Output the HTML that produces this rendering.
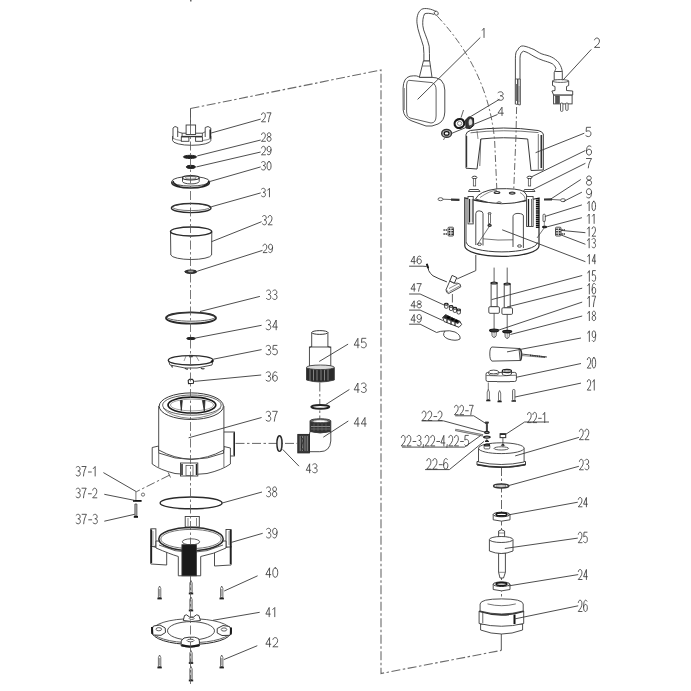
<!DOCTYPE html><html><head><meta charset="utf-8"><style>html,body{margin:0;padding:0;background:#fff;width:691px;height:691px;overflow:hidden}svg{display:block;font-family:"Liberation Sans",sans-serif}</style></head><body><svg width="691" height="691" viewBox="0 0 691 691"><polyline points="190.5,108.5 381,70 381,673.5 501.3,650.4" fill="none" stroke="#6a6a6a" stroke-width="1.1" stroke-dasharray="9 2.5 2.5 2.5"/>
<line x1="501.3" y1="650.4" x2="501.3" y2="634" stroke="#555" stroke-width="1.0" />
<polyline points="501.5,467 501.5,634" fill="none" stroke="#555" stroke-width="0.9" stroke-dasharray="9 2.5 2.5 2.5"/>
<path d="M172.6,136 L172.6,140.5 A19.1,4.8 0 0 0 210.8,140.5 L210.8,136" fill="#fff" stroke="#3a3a3a" stroke-width="0.9" />
<path d="M173,139 L173,128 L175,126.5 L177.7,127.5 L177.7,137" fill="#fff" stroke="#3a3a3a" stroke-width="0.9" />
<path d="M205.2,137 L205.2,127.5 L208,126.5 L210.8,128 L210.8,139" fill="#fff" stroke="#3a3a3a" stroke-width="0.9" />
<line x1="210.2" y1="129.5" x2="210.2" y2="138.5" stroke="#222" stroke-width="1.5" />
<path d="M177.7,131.7 Q180,132.8 182.1,133 L182.1,136 M202.4,133 Q204,132.8 205.2,131.7 M202.4,133 L202.4,136" fill="none" stroke="#3a3a3a" stroke-width="0.8" />
<rect x="186.1" y="125" width="9.5" height="9.5" rx="0" fill="#fff" stroke="#3a3a3a" stroke-width="0.9" />
<line x1="182.1" y1="133.2" x2="186.1" y2="133.2" stroke="#3a3a3a" stroke-width="0.9" />
<line x1="195.6" y1="133.2" x2="202.4" y2="133.2" stroke="#3a3a3a" stroke-width="0.9" />
<rect x="181.3" y="136.9" width="7.6" height="4.4" rx="0" fill="#fff" stroke="#3a3a3a" stroke-width="0.9" />
<rect x="195.6" y="136.9" width="6.8" height="4.4" rx="0" fill="#fff" stroke="#3a3a3a" stroke-width="0.9" />
<line x1="181.3" y1="136.5" x2="202.4" y2="136.5" stroke="#333" stroke-width="1.3" />
<path d="M173.5,138.5 Q176,140 181.3,140.5 M202.4,140.5 Q208,140 210.5,138.5" fill="none" stroke="#3a3a3a" stroke-width="0.6" />
<line x1="211.2" y1="133" x2="260.7" y2="119.1" stroke="#3a3a3a" stroke-width="0.9" />
<path d="M261.53 114.60C261.85 113.25 262.57 112.80 263.44 112.80C264.64 112.80 265.36 114.06 265.36 115.77C265.36 117.75 264.04 119.28 261.45 121.80L265.44 121.80 M267.06 112.80L271.05 112.80C269.54 115.95 268.74 118.38 268.50 121.80" fill="none" stroke="#3a3a3a" stroke-width="0.85" stroke-linecap="round" stroke-linejoin="round"/>
<ellipse cx="190" cy="156.9" rx="6.6" ry="1.6" fill="#222" stroke="#222" stroke-width="1.0" />
<line x1="197.3" y1="155.9" x2="260.7" y2="140" stroke="#3a3a3a" stroke-width="0.9" />
<path d="M261.53 134.50C261.85 133.23 262.57 132.80 263.44 132.80C264.64 132.80 265.36 133.99 265.36 135.61C265.36 137.48 264.04 138.92 261.45 141.30L265.44 141.30 M269.06 136.71C267.94 136.71 267.30 135.86 267.30 134.76C267.30 133.48 268.06 132.80 269.06 132.80C270.05 132.80 270.81 133.48 270.81 134.76C270.81 135.86 270.17 136.71 269.06 136.71C267.86 136.71 267.06 137.73 267.06 139.09C267.06 140.45 267.86 141.30 269.06 141.30C270.25 141.30 271.05 140.45 271.05 139.09C271.05 137.73 270.25 136.71 269.06 136.71Z" fill="none" stroke="#3a3a3a" stroke-width="0.85" stroke-linecap="round" stroke-linejoin="round"/>
<ellipse cx="190.9" cy="166.9" rx="4.6" ry="1.6" fill="#222" stroke="#222" stroke-width="1.0" />
<line x1="196.5" y1="166.9" x2="260.7" y2="152" stroke="#3a3a3a" stroke-width="0.9" />
<path d="M261.53 148.00C261.85 146.73 262.57 146.30 263.44 146.30C264.64 146.30 265.36 147.49 265.36 149.11C265.36 150.98 264.04 152.42 261.45 154.80L265.44 154.80 M271.05 149.53C270.85 150.98 270.05 151.74 269.06 151.74C267.86 151.74 267.06 150.55 267.06 149.02C267.06 147.32 267.86 146.30 269.06 146.30C270.25 146.30 271.05 147.58 271.05 149.70C271.05 152.59 270.25 154.80 268.98 154.80C268.34 154.80 267.70 154.55 267.26 154.12" fill="none" stroke="#3a3a3a" stroke-width="0.85" stroke-linecap="round" stroke-linejoin="round"/>
<ellipse cx="190.6" cy="182.8" rx="18.8" ry="5.2" fill="#fff" stroke="#2a2a2a" stroke-width="1.6" />
<ellipse cx="190.6" cy="181.3" rx="18.8" ry="4.8" fill="#fff" stroke="#3a3a3a" stroke-width="0.9" />
<path d="M182.5,178 L182.5,181.5 A8.35,2.4 0 0 0 199.2,181.5 L199.2,178" fill="#fff" stroke="#3a3a3a" stroke-width="0.9" />
<ellipse cx="190.85" cy="177.8" rx="8.35" ry="2.2" fill="#fff" stroke="#2a2a2a" stroke-width="1.1" />
<ellipse cx="190.85" cy="177.8" rx="5.5" ry="1.3" fill="none" stroke="#3a3a3a" stroke-width="0.6" />
<path d="M173,181 Q174,185 180,186.5 M208.8,181 Q208,185 202,186.5" fill="none" stroke="#222" stroke-width="1.4" />
<line x1="209.5" y1="181.6" x2="260.7" y2="166.9" stroke="#3a3a3a" stroke-width="0.9" />
<path d="M261.53 162.35C262.25 161.67 262.77 161.50 263.44 161.50C264.64 161.50 265.24 162.52 265.24 163.71C265.24 164.90 264.44 165.50 263.12 165.50C264.64 165.50 265.44 166.43 265.44 167.79C265.44 169.15 264.64 170.00 263.44 170.00C262.65 170.00 261.93 169.66 261.45 169.15 M269.06 161.50C267.38 161.50 267.06 164.05 267.06 165.75C267.06 167.45 267.38 170.00 269.06 170.00C270.73 170.00 271.05 167.45 271.05 165.75C271.05 164.05 270.73 161.50 269.06 161.50Z" fill="none" stroke="#3a3a3a" stroke-width="0.85" stroke-linecap="round" stroke-linejoin="round"/>
<ellipse cx="191.2" cy="208.0" rx="19.8" ry="4.6" fill="none" stroke="#2a2a2a" stroke-width="1.4" />
<ellipse cx="191.2" cy="207.2" rx="18.6" ry="3.4" fill="none" stroke="#3a3a3a" stroke-width="0.7" />
<line x1="211.2" y1="206.8" x2="260.7" y2="192.9" stroke="#3a3a3a" stroke-width="0.9" />
<path d="M261.53 189.15C262.25 188.47 262.77 188.30 263.44 188.30C264.64 188.30 265.24 189.32 265.24 190.51C265.24 191.70 264.44 192.30 263.12 192.30C264.64 192.30 265.44 193.23 265.44 194.59C265.44 195.95 264.64 196.80 263.44 196.80C262.65 196.80 261.93 196.46 261.45 195.95 M267.66 190.17L269.46 188.30L269.46 196.80" fill="none" stroke="#3a3a3a" stroke-width="0.85" stroke-linecap="round" stroke-linejoin="round"/>
<path d="M170.5,232 L170.8,255 A20.5,5 0 0 0 211.6,255 L211.8,232" fill="#fff" stroke="#3a3a3a" stroke-width="0.9" />
<ellipse cx="191.1" cy="231.5" rx="20.6" ry="4.4" fill="#fff" stroke="#2a2a2a" stroke-width="1.5" />
<line x1="211.5" y1="241.7" x2="261.6" y2="221.7" stroke="#3a3a3a" stroke-width="0.9" />
<path d="M262.53 216.43C263.25 215.69 263.77 215.50 264.44 215.50C265.64 215.50 266.24 216.62 266.24 217.92C266.24 219.22 265.44 219.87 264.12 219.87C265.64 219.87 266.44 220.89 266.44 222.38C266.44 223.87 265.64 224.80 264.44 224.80C263.65 224.80 262.93 224.43 262.45 223.87 M268.14 217.36C268.46 215.97 269.18 215.50 270.06 215.50C271.25 215.50 271.97 216.80 271.97 218.57C271.97 220.62 270.65 222.20 268.06 224.80L272.05 224.80" fill="none" stroke="#3a3a3a" stroke-width="0.85" stroke-linecap="round" stroke-linejoin="round"/>
<ellipse cx="190.8" cy="271.7" rx="6" ry="1.7" fill="#333" stroke="#222" stroke-width="1.0" />
<ellipse cx="190.8" cy="271.4" rx="2.5" ry="0.6" fill="#999" stroke="#999" stroke-width="0.5" />
<line x1="197.3" y1="271.2" x2="262.5" y2="250.4" stroke="#3a3a3a" stroke-width="0.9" />
<path d="M263.03 245.88C263.35 244.62 264.07 244.20 264.94 244.20C266.14 244.20 266.86 245.38 266.86 246.97C266.86 248.82 265.54 250.25 262.95 252.60L266.94 252.60 M272.55 247.39C272.35 248.82 271.55 249.58 270.56 249.58C269.36 249.58 268.56 248.40 268.56 246.89C268.56 245.21 269.36 244.20 270.56 244.20C271.75 244.20 272.55 245.46 272.55 247.56C272.55 250.42 271.75 252.60 270.48 252.60C269.84 252.60 269.20 252.35 268.76 251.93" fill="none" stroke="#3a3a3a" stroke-width="0.85" stroke-linecap="round" stroke-linejoin="round"/>
<ellipse cx="191" cy="318.0" rx="25" ry="5.6" fill="none" stroke="#2a2a2a" stroke-width="1.9" />
<ellipse cx="191" cy="316.8" rx="24.4" ry="4.4" fill="none" stroke="#3a3a3a" stroke-width="0.8" />
<line x1="200" y1="311.5" x2="259.9" y2="296.4" stroke="#3a3a3a" stroke-width="0.9" />
<path d="M266.54 290.95C267.33 290.19 267.90 290.00 268.65 290.00C269.97 290.00 270.63 291.14 270.63 292.47C270.63 293.80 269.75 294.46 268.30 294.46C269.97 294.46 270.85 295.51 270.85 297.03C270.85 298.55 269.97 299.50 268.65 299.50C267.77 299.50 266.98 299.12 266.45 298.55 M272.74 290.95C273.53 290.19 274.10 290.00 274.85 290.00C276.17 290.00 276.83 291.14 276.83 292.47C276.83 293.80 275.95 294.46 274.50 294.46C276.17 294.46 277.05 295.51 277.05 297.03C277.05 298.55 276.17 299.50 274.85 299.50C273.97 299.50 273.18 299.12 272.65 298.55" fill="none" stroke="#3a3a3a" stroke-width="0.85" stroke-linecap="round" stroke-linejoin="round"/>
<ellipse cx="191" cy="338.5" rx="4.3" ry="1.1" fill="#222" stroke="#222" stroke-width="1.0" />
<line x1="195.1" y1="338.1" x2="261.6" y2="325.3" stroke="#3a3a3a" stroke-width="0.9" />
<path d="M266.14 320.98C266.99 320.20 267.60 320.00 268.40 320.00C269.80 320.00 270.51 321.18 270.51 322.55C270.51 323.92 269.57 324.61 268.02 324.61C269.80 324.61 270.74 325.68 270.74 327.25C270.74 328.82 269.80 329.80 268.40 329.80C267.46 329.80 266.61 329.41 266.05 328.82 M276.18 329.80L276.18 320.00L272.66 327.06L277.35 327.06" fill="none" stroke="#3a3a3a" stroke-width="0.85" stroke-linecap="round" stroke-linejoin="round"/>
<path d="M168.3,360.3 L170,365 L185,368 L197,368 L212,365 L213.1,360.3" fill="#fff" stroke="#3a3a3a" stroke-width="0.9" />
<ellipse cx="190.7" cy="360.3" rx="22.4" ry="4.7" fill="#fff" stroke="#2a2a2a" stroke-width="1.3" />
<path d="M171.5,365.5 L172.5,367.5 M185,368 Q186,369.5 188,369 M201,367.8 Q202.5,369.5 204.5,368.5" fill="none" stroke="#333" stroke-width="1.2" />
<path d="M211,362 L213,360.5" fill="none" stroke="#111" stroke-width="2" />
<path d="M186,356 L184,361 M196,356 L199,361" fill="none" stroke="#3a3a3a" stroke-width="0.5" />
<rect x="189.6" y="355.2" width="2.9" height="1.8" rx="0" fill="#444" stroke="#3a3a3a" stroke-width="0.6" />
<line x1="213.3" y1="359.2" x2="261.6" y2="349.6" stroke="#3a3a3a" stroke-width="0.9" />
<path d="M266.14 346.34C266.99 345.59 267.60 345.40 268.40 345.40C269.80 345.40 270.51 346.53 270.51 347.84C270.51 349.16 269.57 349.82 268.02 349.82C269.80 349.82 270.74 350.85 270.74 352.36C270.74 353.86 269.80 354.80 268.40 354.80C267.46 354.80 266.61 354.42 266.05 353.86 M276.97 345.40L273.22 345.40L272.89 349.63C273.60 349.16 274.30 348.97 275.00 348.97C276.41 348.97 277.35 350.10 277.35 351.89C277.35 353.67 276.41 354.80 275.00 354.80C274.07 354.80 273.22 354.42 272.66 353.86" fill="none" stroke="#3a3a3a" stroke-width="0.85" stroke-linecap="round" stroke-linejoin="round"/>
<path d="M188.2,380.5 L189.5,379.4 L192.5,379.4 L193.6,380.8 L193.4,383.3 L188.5,383.6 Z" fill="#fff" stroke="#2a2a2a" stroke-width="1.1" />
<line x1="194.3" y1="381.4" x2="261.2" y2="375" stroke="#3a3a3a" stroke-width="0.9" />
<path d="M266.14 372.74C266.99 371.99 267.60 371.80 268.40 371.80C269.80 371.80 270.51 372.93 270.51 374.24C270.51 375.56 269.57 376.22 268.02 376.22C269.80 376.22 270.74 377.25 270.74 378.76C270.74 380.26 269.80 381.20 268.40 381.20C267.46 381.20 266.61 380.82 266.05 380.26 M276.88 372.55C276.41 371.99 275.71 371.80 275.10 371.80C273.36 371.80 272.66 374.62 272.66 377.44C272.66 379.88 273.60 381.20 275.00 381.20C276.41 381.20 277.35 379.88 277.35 378.10C277.35 376.31 276.41 375.28 275.00 375.28C273.83 375.28 272.89 376.31 272.66 377.63" fill="none" stroke="#3a3a3a" stroke-width="0.85" stroke-linecap="round" stroke-linejoin="round"/>
<rect x="223.5" y="432" width="11" height="24" rx="0" fill="#fff" stroke="#3a3a3a" stroke-width="0.9" />
<line x1="234.2" y1="432.5" x2="234.2" y2="455.5" stroke="#222" stroke-width="1.6" />
<path d="M152.2,447.5 L152.2,464 Q160,470 175,473.5 Q191,476 207,473.5 Q222,470 230.4,464 L230.4,448 L223.9,446.5 L223.9,453 Q191,466 158.7,453 L158.7,446 Z" fill="#fff" stroke="#3a3a3a" stroke-width="0.9" />
<line x1="158.7" y1="453" x2="158.7" y2="467" stroke="#3a3a3a" stroke-width="0.7" />
<line x1="223.9" y1="453" x2="223.9" y2="467" stroke="#3a3a3a" stroke-width="0.7" />
<path d="M158.7,406 L158.7,450 Q191,468 223.9,450 L223.9,406" fill="#fff" stroke="#3a3a3a" stroke-width="0.9" />
<rect x="180.5" y="463" width="17.3" height="13" rx="0" fill="#fff" stroke="#3a3a3a" stroke-width="0.9" />
<line x1="182" y1="464" x2="182" y2="475" stroke="#222" stroke-width="1.5" />
<line x1="196.5" y1="464" x2="196.5" y2="475" stroke="#222" stroke-width="1.5" />
<rect x="186" y="465.5" width="7" height="10" rx="0" fill="#fff" stroke="#3a3a3a" stroke-width="0.7" />
<ellipse cx="191.3" cy="406.2" rx="32.1" ry="13.3" fill="#fff" stroke="#3a3a3a" stroke-width="1.0" />
<ellipse cx="191.9" cy="405.1" rx="29.3" ry="10.1" fill="none" stroke="#3a3a3a" stroke-width="0.8" />
<ellipse cx="191.9" cy="405.1" rx="23.9" ry="7.9" fill="#fff" stroke="#1a1a1a" stroke-width="1.7" />
<ellipse cx="192" cy="405.0" rx="21.5" ry="5.9" fill="none" stroke="#666" stroke-width="0.6" />
<path d="M180.3,400.5 L181.3,410.5 L182.3,400.5 Z M202.5,400.5 L204.3,411 L205,400.5 Z" fill="#333" stroke="#222" stroke-width="0.8" />
<path d="M163,408 Q170,417 191,418.5 Q213,417 221,408" fill="none" stroke="#3a3a3a" stroke-width="0.6" />
<line x1="188.6" y1="437.8" x2="261.6" y2="417.5" stroke="#3a3a3a" stroke-width="0.9" />
<path d="M266.14 412.29C266.99 411.50 267.60 411.30 268.40 411.30C269.80 411.30 270.51 412.49 270.51 413.87C270.51 415.26 269.57 415.95 268.02 415.95C269.80 415.95 270.74 417.04 270.74 418.63C270.74 420.21 269.80 421.20 268.40 421.20C267.46 421.20 266.61 420.80 266.05 420.21 M272.66 411.30L277.35 411.30C275.57 414.76 274.63 417.44 274.35 421.20" fill="none" stroke="#3a3a3a" stroke-width="0.85" stroke-linecap="round" stroke-linejoin="round"/>
<polyline points="169.4,475.2 136.4,491.7" fill="none" stroke="#555" stroke-width="0.9" stroke-dasharray="9 2.5 2.5 2.5"/>
<line x1="168.2" y1="472.5" x2="170.5" y2="477.5" stroke="#3a3a3a" stroke-width="0.8" />
<ellipse cx="143" cy="494.6" rx="1.6" ry="1.6" fill="none" stroke="#3a3a3a" stroke-width="0.7" />
<line x1="103.4" y1="472.6" x2="136.4" y2="491.7" stroke="#3a3a3a" stroke-width="0.9" />
<line x1="135.9" y1="491.7" x2="135.9" y2="500" stroke="#3a3a3a" stroke-width="0.7" />
<line x1="133" y1="500.9" x2="141.6" y2="500.9" stroke="#111" stroke-width="1.8" />
<line x1="104.3" y1="494.3" x2="134.7" y2="500.4" stroke="#3a3a3a" stroke-width="0.9" />
<path d="M134.9,504 L136.9,504 L136.9,516 L134.9,516 Z" fill="#bbb" stroke="#444" stroke-width="0.8" />
<line x1="133.8" y1="516.9" x2="138" y2="516.9" stroke="#111" stroke-width="1.8" />
<line x1="104.3" y1="521.2" x2="134.7" y2="514.3" stroke="#3a3a3a" stroke-width="0.9" />
<path d="M76.13 467.45C76.89 466.69 77.44 466.50 78.15 466.50C79.42 466.50 80.05 467.64 80.05 468.97C80.05 470.30 79.21 470.96 77.82 470.96C79.42 470.96 80.26 472.01 80.26 473.53C80.26 475.05 79.42 476.00 78.15 476.00C77.31 476.00 76.55 475.62 76.05 475.05 M81.98 466.50L86.18 466.50C84.58 469.82 83.74 472.39 83.49 476.00 M88.38 472.01L91.34 472.01 M93.27 468.59L95.17 466.50L95.17 476.00" fill="none" stroke="#3a3a3a" stroke-width="0.85" stroke-linecap="round" stroke-linejoin="round"/>
<path d="M76.13 489.16C76.89 488.39 77.44 488.20 78.15 488.20C79.42 488.20 80.05 489.35 80.05 490.70C80.05 492.04 79.21 492.71 77.82 492.71C79.42 492.71 80.26 493.77 80.26 495.30C80.26 496.84 79.42 497.80 78.15 497.80C77.31 497.80 76.55 497.42 76.05 496.84 M81.98 488.20L86.18 488.20C84.58 491.56 83.74 494.15 83.49 497.80 M88.38 493.77L91.34 493.77 M92.73 490.12C93.06 488.68 93.82 488.20 94.75 488.20C96.01 488.20 96.77 489.54 96.77 491.37C96.77 493.48 95.38 495.11 92.64 497.80L96.85 497.80" fill="none" stroke="#3a3a3a" stroke-width="0.85" stroke-linecap="round" stroke-linejoin="round"/>
<path d="M76.14 515.25C76.91 514.49 77.47 514.30 78.20 514.30C79.50 514.30 80.14 515.44 80.14 516.77C80.14 518.10 79.28 518.76 77.86 518.76C79.50 518.76 80.36 519.81 80.36 521.33C80.36 522.85 79.50 523.80 78.20 523.80C77.34 523.80 76.57 523.42 76.05 522.85 M82.12 514.30L86.43 514.30C84.79 517.62 83.93 520.19 83.67 523.80 M88.67 519.81L91.71 519.81 M93.13 515.25C93.90 514.49 94.46 514.30 95.20 514.30C96.49 514.30 97.13 515.44 97.13 516.77C97.13 518.10 96.27 518.76 94.85 518.76C96.49 518.76 97.35 519.81 97.35 521.33C97.35 522.85 96.49 523.80 95.20 523.80C94.33 523.80 93.56 523.42 93.04 522.85" fill="none" stroke="#3a3a3a" stroke-width="0.85" stroke-linecap="round" stroke-linejoin="round"/>
<ellipse cx="191.1" cy="502.9" rx="31" ry="5.9" fill="none" stroke="#2a2a2a" stroke-width="1.4" />
<line x1="222.2" y1="503" x2="262" y2="492" stroke="#3a3a3a" stroke-width="0.9" />
<path d="M266.54 487.89C267.31 487.10 267.86 486.90 268.59 486.90C269.87 486.90 270.51 488.09 270.51 489.47C270.51 490.86 269.66 491.55 268.25 491.55C269.87 491.55 270.73 492.64 270.73 494.23C270.73 495.81 269.87 496.80 268.59 496.80C267.73 496.80 266.96 496.40 266.45 495.81 M274.61 491.45C273.41 491.45 272.73 490.46 272.73 489.18C272.73 487.69 273.54 486.90 274.61 486.90C275.68 486.90 276.49 487.69 276.49 489.18C276.49 490.46 275.81 491.45 274.61 491.45C273.33 491.45 272.47 492.64 272.47 494.23C272.47 495.81 273.33 496.80 274.61 496.80C275.89 496.80 276.75 495.81 276.75 494.23C276.75 492.64 275.89 491.45 274.61 491.45Z" fill="none" stroke="#3a3a3a" stroke-width="0.85" stroke-linecap="round" stroke-linejoin="round"/>
<rect x="185.2" y="516.5" width="14.1" height="10.5" rx="0" fill="#fff" stroke="#3a3a3a" stroke-width="0.9" />
<line x1="188" y1="518" x2="188" y2="526" stroke="#3a3a3a" stroke-width="0.6" />
<line x1="196.5" y1="518" x2="196.5" y2="526" stroke="#3a3a3a" stroke-width="0.6" />
<path d="M150.8,546 L150.8,564 L166.7,565 L166.7,550 Z" fill="#fff" stroke="#3a3a3a" stroke-width="0.9" />
<path d="M231.1,546 L231.1,565 L214.5,566 L214.5,550 Z" fill="#fff" stroke="#3a3a3a" stroke-width="0.9" />
<rect x="150.8" y="528.8" width="5.1" height="17.5" rx="0" fill="#fff" stroke="#3a3a3a" stroke-width="0.9" />
<rect x="226" y="529.5" width="5.1" height="17.5" rx="0" fill="#fff" stroke="#3a3a3a" stroke-width="0.9" />
<line x1="151.3" y1="529.5" x2="151.3" y2="563" stroke="#222" stroke-width="1.7" />
<line x1="230.6" y1="530" x2="230.6" y2="564" stroke="#222" stroke-width="1.7" />
<line x1="153" y1="531" x2="153" y2="545" stroke="#3a3a3a" stroke-width="0.5" />
<line x1="229" y1="531" x2="229" y2="545" stroke="#3a3a3a" stroke-width="0.5" />
<path d="M156,541 L156,548 Q170,554 178.3,556.5 L178.3,575.8 L200.7,575.8 L200.7,556.5 Q214,554 226,548 L226,541 Z" fill="#fff" stroke="#3a3a3a" stroke-width="0.9" />
<ellipse cx="191" cy="539" rx="32.2" ry="11.6" fill="#fff" stroke="#2a2a2a" stroke-width="1.5" />
<ellipse cx="191" cy="539" rx="30.2" ry="9.6" fill="none" stroke="#3a3a3a" stroke-width="0.7" />
<path d="M159,545 Q191,560 223,545" fill="none" stroke="#3a3a3a" stroke-width="0.8" />
<ellipse cx="191" cy="541.8" rx="8.7" ry="3" fill="#fff" stroke="#3a3a3a" stroke-width="0.8" />
<rect x="181.9" y="544.7" width="14.5" height="31.1" rx="0" fill="#1a1a1a" stroke="#3a3a3a" stroke-width="0.8" />
<line x1="231.3" y1="542.4" x2="262.7" y2="533.3" stroke="#3a3a3a" stroke-width="0.9" />
<path d="M266.54 529.27C267.33 528.49 267.90 528.30 268.65 528.30C269.97 528.30 270.63 529.46 270.63 530.82C270.63 532.18 269.75 532.86 268.30 532.86C269.97 532.86 270.85 533.93 270.85 535.48C270.85 537.03 269.97 538.00 268.65 538.00C267.77 538.00 266.98 537.61 266.45 537.03 M277.05 531.99C276.83 533.63 275.95 534.51 274.85 534.51C273.53 534.51 272.65 533.15 272.65 531.40C272.65 529.46 273.53 528.30 274.85 528.30C276.17 528.30 277.05 529.75 277.05 532.18C277.05 535.48 276.17 538.00 274.76 538.00C274.06 538.00 273.35 537.71 272.87 537.22" fill="none" stroke="#3a3a3a" stroke-width="0.85" stroke-linecap="round" stroke-linejoin="round"/>
<path d="M159.6,586 L160.79999999999998,588.5 L160.79999999999998,597.5 L158.4,597.5 L158.4,588.5 Z" fill="#fff" stroke="#3a3a3a" stroke-width="0.7" />
<line x1="159.6" y1="589" x2="159.6" y2="596.5" stroke="#3a3a3a" stroke-width="0.5" />
<line x1="157.4" y1="598.5" x2="161.79999999999998" y2="598.5" stroke="#222" stroke-width="1.8" />
<path d="M221.7,586 L222.89999999999998,588.5 L222.89999999999998,597.5 L220.5,597.5 L220.5,588.5 Z" fill="#fff" stroke="#3a3a3a" stroke-width="0.7" />
<line x1="221.7" y1="589" x2="221.7" y2="596.5" stroke="#3a3a3a" stroke-width="0.5" />
<line x1="219.5" y1="598.5" x2="223.89999999999998" y2="598.5" stroke="#222" stroke-width="1.8" />
<path d="M191,580.5 L192.2,583.0 L192.2,592.5 L189.8,592.5 L189.8,583.0 Z" fill="#fff" stroke="#3a3a3a" stroke-width="0.7" />
<line x1="191" y1="583.5" x2="191" y2="591.5" stroke="#3a3a3a" stroke-width="0.5" />
<line x1="188.8" y1="593.5" x2="193.2" y2="593.5" stroke="#222" stroke-width="1.8" />
<path d="M191,597 L192.2,599.5 L192.2,609.5 L189.8,609.5 L189.8,599.5 Z" fill="#fff" stroke="#3a3a3a" stroke-width="0.7" />
<line x1="191" y1="600" x2="191" y2="608.5" stroke="#3a3a3a" stroke-width="0.5" />
<line x1="188.8" y1="610.5" x2="193.2" y2="610.5" stroke="#222" stroke-width="1.8" />
<line x1="224.2" y1="591" x2="257.6" y2="575.8" stroke="#3a3a3a" stroke-width="0.9" />
<path d="M269.56 577.30L269.56 567.80L265.85 574.64L270.79 574.64 M275.28 567.80C273.20 567.80 272.81 570.65 272.81 572.55C272.81 574.45 273.20 577.30 275.28 577.30C277.35 577.30 277.75 574.45 277.75 572.55C277.75 570.65 277.35 567.80 275.28 567.80Z" fill="none" stroke="#3a3a3a" stroke-width="0.85" stroke-linecap="round" stroke-linejoin="round"/>
<ellipse cx="191.6" cy="631.8" rx="39.7" ry="12.6" fill="#fff" stroke="#2a2a2a" stroke-width="1.0" />
<ellipse cx="191.6" cy="630.7" rx="39.4" ry="12.0" fill="#fff" stroke="#3a3a3a" stroke-width="0.8" />
<ellipse cx="191" cy="630.8" rx="23.5" ry="9.2" fill="none" stroke="#3a3a3a" stroke-width="0.9" />
<path d="M183.3,620.5 L184.5,615.5 L186.5,614.8 L189.5,617 L193.5,617 L196.5,614.8 L198.8,615.5 L200.5,620.5 Q192,622.5 183.3,620.5 Z" fill="#fff" stroke="#3a3a3a" stroke-width="1.0" />
<ellipse cx="191.7" cy="618.5" rx="2.5" ry="1.0" fill="none" stroke="#3a3a3a" stroke-width="0.7" />
<path d="M181.2,641 L184,638 L189,637.2 L194.5,637.2 L198.5,638.5 L199.4,641 L199.4,646 Q190,648.5 181.2,646 Z" fill="#fff" stroke="#3a3a3a" stroke-width="1.0" />
<path d="M181.5,645 Q190,648 199.2,645" fill="none" stroke="#1a1a1a" stroke-width="2.2" />
<ellipse cx="190.5" cy="640.5" rx="3.5" ry="1.3" fill="none" stroke="#3a3a3a" stroke-width="0.8" />
<path d="M151.5,630 L153.5,626 L160,625 L165.2,628 L165.5,632.5 L161,635.3 L153,635 Z" fill="#fff" stroke="#3a3a3a" stroke-width="1.0" />
<ellipse cx="158.8" cy="629.2" rx="2.8" ry="1.6" fill="none" stroke="#3a3a3a" stroke-width="0.8" />
<line x1="152" y1="627" x2="152.3" y2="634" stroke="#1a1a1a" stroke-width="2.0" />
<path d="M231.3,630.5 L229.5,626.5 L223,625.5 L217.2,628.5 L217.2,633 L222,635.5 L230,635.3 Z" fill="#fff" stroke="#3a3a3a" stroke-width="1.0" />
<ellipse cx="224" cy="629.5" rx="2.8" ry="1.6" fill="none" stroke="#3a3a3a" stroke-width="0.8" />
<line x1="231" y1="627.5" x2="230.8" y2="634.5" stroke="#1a1a1a" stroke-width="2.0" />
<line x1="213" y1="620.3" x2="259.7" y2="612.3" stroke="#3a3a3a" stroke-width="0.9" />
<path d="M269.18 616.70L269.18 607.50L265.85 614.12L270.29 614.12 M272.77 609.52L274.77 607.50L274.77 616.70" fill="none" stroke="#3a3a3a" stroke-width="0.85" stroke-linecap="round" stroke-linejoin="round"/>
<path d="M159.6,655 L160.79999999999998,657.5 L160.79999999999998,666.5 L158.4,666.5 L158.4,657.5 Z" fill="#fff" stroke="#3a3a3a" stroke-width="0.7" />
<line x1="159.6" y1="658" x2="159.6" y2="665.5" stroke="#3a3a3a" stroke-width="0.5" />
<line x1="157.4" y1="667.5" x2="161.79999999999998" y2="667.5" stroke="#222" stroke-width="1.8" />
<path d="M221.7,655 L222.89999999999998,657.5 L222.89999999999998,666.5 L220.5,666.5 L220.5,657.5 Z" fill="#fff" stroke="#3a3a3a" stroke-width="0.7" />
<line x1="221.7" y1="658" x2="221.7" y2="665.5" stroke="#3a3a3a" stroke-width="0.5" />
<line x1="219.5" y1="667.5" x2="223.89999999999998" y2="667.5" stroke="#222" stroke-width="1.8" />
<path d="M191,650.5 L192.2,653.0 L192.2,662 L189.8,662 L189.8,653.0 Z" fill="#fff" stroke="#3a3a3a" stroke-width="0.7" />
<line x1="191" y1="653.5" x2="191" y2="661" stroke="#3a3a3a" stroke-width="0.5" />
<line x1="188.8" y1="663" x2="193.2" y2="663" stroke="#222" stroke-width="1.8" />
<path d="M191,666.5 L192.2,669.0 L192.2,679.5 L189.8,679.5 L189.8,669.0 Z" fill="#fff" stroke="#3a3a3a" stroke-width="0.7" />
<line x1="191" y1="669.5" x2="191" y2="678.5" stroke="#3a3a3a" stroke-width="0.5" />
<line x1="188.8" y1="680.5" x2="193.2" y2="680.5" stroke="#222" stroke-width="1.8" />
<line x1="223.8" y1="659.6" x2="257.3" y2="645.7" stroke="#3a3a3a" stroke-width="0.9" />
<path d="M269.56 646.80L269.56 637.60L265.85 644.22L270.79 644.22 M272.91 639.44C273.30 638.06 274.19 637.60 275.28 637.60C276.76 637.60 277.65 638.89 277.65 640.64C277.65 642.66 276.02 644.22 272.81 646.80L277.75 646.80" fill="none" stroke="#3a3a3a" stroke-width="0.85" stroke-linecap="round" stroke-linejoin="round"/>
<path d="M311.7,332.5 L311.7,348 L327.9,348 L327.9,332.5" fill="#fff" stroke="#3a3a3a" stroke-width="0.9" />
<ellipse cx="319.8" cy="332.5" rx="8.1" ry="1.9" fill="#fff" stroke="#3a3a3a" stroke-width="1.0" />
<rect x="309.4" y="347" width="21.4" height="19" rx="0" fill="#fff" stroke="#3a3a3a" stroke-width="0.9" />
<line x1="309.4" y1="347.5" x2="311.7" y2="346.5" stroke="#3a3a3a" stroke-width="0.9" />
<line x1="330.8" y1="347.5" x2="327.9" y2="346.5" stroke="#3a3a3a" stroke-width="0.9" />
<path d="M306.5,367.5 L306.5,380 Q320,384 334.3,380 L334.3,367.5 Q320,364 306.5,367.5 Z" fill="#2a2a2a" stroke="#3a3a3a" stroke-width="0.9" />
<line x1="310" y1="369" x2="310" y2="380.5" stroke="#bbb" stroke-width="0.6" />
<line x1="313.5" y1="369" x2="313.5" y2="380.5" stroke="#bbb" stroke-width="0.6" />
<line x1="317" y1="369" x2="317" y2="380.5" stroke="#bbb" stroke-width="0.6" />
<line x1="321" y1="369" x2="321" y2="380.5" stroke="#bbb" stroke-width="0.6" />
<line x1="324.5" y1="369" x2="324.5" y2="380.5" stroke="#bbb" stroke-width="0.6" />
<line x1="328" y1="369" x2="328" y2="380.5" stroke="#bbb" stroke-width="0.6" />
<ellipse cx="320.4" cy="367.3" rx="13.8" ry="2.3" fill="#ddd" stroke="#3a3a3a" stroke-width="0.8" />
<line x1="319.2" y1="361.5" x2="348.1" y2="344.1" stroke="#3a3a3a" stroke-width="0.9" />
<path d="M357.92 347.80L357.92 338.30L354.15 345.14L359.17 345.14 M365.85 338.30L361.83 338.30L361.48 342.57C362.23 342.10 362.98 341.91 363.74 341.91C365.25 341.91 366.25 343.05 366.25 344.86C366.25 346.66 365.25 347.80 363.74 347.80C362.73 347.80 361.83 347.42 361.23 346.85" fill="none" stroke="#3a3a3a" stroke-width="0.85" stroke-linecap="round" stroke-linejoin="round"/>
<polyline points="319.8,382.5 319.8,420" fill="none" stroke="#555" stroke-width="0.9" stroke-dasharray="9 2.5 2.5 2.5"/>
<ellipse cx="320.3" cy="406.8" rx="9.0" ry="1.9" fill="#fff" stroke="#222" stroke-width="2.0" />
<line x1="325.5" y1="404.7" x2="349.4" y2="389.5" stroke="#3a3a3a" stroke-width="0.9" />
<path d="M357.92 392.50L357.92 383.00L354.15 389.84L359.17 389.84 M361.33 383.95C362.23 383.19 362.88 383.00 363.74 383.00C365.25 383.00 366.00 384.14 366.00 385.47C366.00 386.80 364.99 387.46 363.34 387.46C365.25 387.46 366.25 388.51 366.25 390.03C366.25 391.55 365.25 392.50 363.74 392.50C362.73 392.50 361.83 392.12 361.23 391.55" fill="none" stroke="#3a3a3a" stroke-width="0.85" stroke-linecap="round" stroke-linejoin="round"/>
<path d="M330.8,431.5 L330.8,441 Q330,451.7 319.8,451.7 L309.4,451.7 L309.4,434.4 L310,431.5 Z" fill="#fff" stroke="#3a3a3a" stroke-width="0.9" />
<path d="M310,421 L310,431.5 Q320,434.5 330.8,431.5 L330.8,421 Z" fill="#333" stroke="#3a3a3a" stroke-width="0.9" />
<ellipse cx="320.4" cy="420.9" rx="10.4" ry="2.2" fill="#777" stroke="#3a3a3a" stroke-width="0.9" />
<ellipse cx="320.4" cy="421.2" rx="8.4" ry="1.4" fill="#fff" stroke="#3a3a3a" stroke-width="0.7" />
<line x1="311" y1="426.5" x2="330" y2="426.5" stroke="#aaa" stroke-width="0.7" />
<line x1="311" y1="429" x2="330" y2="429" stroke="#888" stroke-width="0.6" />
<line x1="314" y1="423.5" x2="314" y2="431" stroke="#777" stroke-width="0.5" />
<line x1="318" y1="423.5" x2="318" y2="431" stroke="#777" stroke-width="0.5" />
<line x1="322" y1="423.5" x2="322" y2="431" stroke="#777" stroke-width="0.5" />
<line x1="326" y1="423.5" x2="326" y2="431" stroke="#777" stroke-width="0.5" />
<rect x="297.8" y="434.4" width="11.6" height="18.5" rx="0" fill="#3a3a3a" stroke="#222" stroke-width="0.9" />
<line x1="300.2" y1="436" x2="300.2" y2="451" stroke="#aaa" stroke-width="0.7" />
<line x1="302.6" y1="436" x2="302.6" y2="451" stroke="#aaa" stroke-width="0.7" />
<line x1="305" y1="436" x2="305" y2="451" stroke="#aaa" stroke-width="0.7" />
<line x1="307.3" y1="436" x2="307.3" y2="451" stroke="#aaa" stroke-width="0.7" />
<path d="M301,437 Q305,440 302,444 Q300,448 304,451" fill="none" stroke="#222" stroke-width="0.9" />
<line x1="323.3" y1="437.2" x2="348.3" y2="421" stroke="#3a3a3a" stroke-width="0.9" />
<path d="M357.92 426.40L357.92 417.50L354.15 423.91L359.17 423.91 M364.99 426.40L364.99 417.50L361.23 423.91L366.25 423.91" fill="none" stroke="#3a3a3a" stroke-width="0.85" stroke-linecap="round" stroke-linejoin="round"/>
<line x1="235.5" y1="443.4" x2="297.5" y2="443.4" stroke="#555" stroke-width="0.9" stroke-dasharray="9 2.5 2.5 2.5"/>
<ellipse cx="279.5" cy="443.6" rx="2.6" ry="7.8" fill="#eee" stroke="#222" stroke-width="1.4" />
<line x1="281.5" y1="437" x2="281.5" y2="450" stroke="#3a3a3a" stroke-width="0.6" />
<line x1="282.7" y1="449.4" x2="299" y2="466.2" stroke="#3a3a3a" stroke-width="0.9" />
<path d="M309.64 472.80L309.64 463.80L306.25 470.28L310.78 470.28 M312.71 464.70C313.53 463.98 314.12 463.80 314.89 463.80C316.24 463.80 316.92 464.88 316.92 466.14C316.92 467.40 316.02 468.03 314.53 468.03C316.24 468.03 317.15 469.02 317.15 470.46C317.15 471.90 316.24 472.80 314.89 472.80C313.98 472.80 313.17 472.44 312.62 471.90" fill="none" stroke="#3a3a3a" stroke-width="0.85" stroke-linecap="round" stroke-linejoin="round"/>
<path d="M436.1,11.6 C432,9 425,7.5 421.6,9.3 C417.5,12 416.5,18 417,23.2 C417.5,30 421,38 423.4,46.3 C424,51 424,56 423.9,61 L429.5,61 C429.5,56 429.5,51 429.2,46.3 C427.5,38 423,31 422.8,25.5 C422.6,21 422.8,17.5 424.5,13.9 C426,13 430,13 434.4,14.5" fill="#fff" stroke="#3a3a3a" stroke-width="0.9" />
<ellipse cx="436.3" cy="13.2" rx="1.8" ry="2.2" fill="none" stroke="#3a3a3a" stroke-width="0.8" transform="rotate(-30 436.3 13.2)"/>
<path d="M423.4,61 L429.7,61 L432,77.4 L419.3,77.4 Z" fill="#fff" stroke="#3a3a3a" stroke-width="0.9" />
<line x1="422.4" y1="66" x2="430.6" y2="66" stroke="#3a3a3a" stroke-width="0.7" />
<path d="M410,76.2 Q418,75 419.3,77.4 L432,77.4 Q436,77 441,80 Q444.8,84 444.8,90 L444.8,112 Q444.5,121 438,124 Q432,127 426,126 L412,121 Q404,118 403.2,110 L403.1,88 Q403.3,78 410,76.2 Z" fill="#fff" stroke="#3a3a3a" stroke-width="0.9" />
<path d="M408.9,80.3 L432,82.6 Q436.1,84 436.1,90 L436.1,116 Q436,123 431,123 L410,118 Q406.5,117 406.6,112 L406.6,85 Q406.8,80.5 408.9,80.3 Z" fill="none" stroke="#3a3a3a" stroke-width="0.8" />
<path d="M404.5,88 L404.5,110" fill="none" stroke="#3a3a3a" stroke-width="0.5" />
<line x1="417.6" y1="99.4" x2="480.3" y2="37.5" stroke="#3a3a3a" stroke-width="0.9" />
<path d="M482.32 30.25L484.03 28.20L484.03 37.50" fill="none" stroke="#3a3a3a" stroke-width="0.85" stroke-linecap="round" stroke-linejoin="round"/>
<ellipse cx="459.4" cy="123.5" rx="4.9" ry="4.4" fill="#fff" stroke="#1a1a1a" stroke-width="2.2" transform="rotate(-20 459.4 123.5)"/>
<ellipse cx="459.6" cy="123.4" rx="2.2" ry="2.0" fill="none" stroke="#666" stroke-width="0.8" />
<path d="M465.6,120 L468.8,116.8 L473.5,118.2 L473.7,125.5 L470,128.6 L466,128 Z" fill="#333" stroke="#222" stroke-width="1.0" />
<ellipse cx="470.5" cy="122.6" rx="1.6" ry="3.5" fill="#ddd" stroke="#ccc" stroke-width="0.6" />
<line x1="461" y1="117.7" x2="463.5" y2="110" stroke="#3a3a3a" stroke-width="0.8" />
<line x1="469.1" y1="117.5" x2="499.5" y2="99.3" stroke="#3a3a3a" stroke-width="0.9" />
<path d="M498.06 92.65C499.03 91.97 499.73 91.80 500.65 91.80C502.27 91.80 503.08 92.82 503.08 94.01C503.08 95.20 502.00 95.80 500.22 95.80C502.27 95.80 503.35 96.73 503.35 98.09C503.35 99.45 502.27 100.30 500.65 100.30C499.57 100.30 498.60 99.96 497.95 99.45" fill="none" stroke="#3a3a3a" stroke-width="0.85" stroke-linecap="round" stroke-linejoin="round"/>
<ellipse cx="446.6" cy="133.4" rx="4.9" ry="3.9" fill="#bbb" stroke="#333" stroke-width="1.4" />
<ellipse cx="446.6" cy="133.4" rx="2.4" ry="1.8" fill="#fff" stroke="#111" stroke-width="1.2" />
<line x1="444.5" y1="138" x2="443.5" y2="140" stroke="#3a3a3a" stroke-width="0.7" />
<line x1="450.9" y1="133.7" x2="497.5" y2="114.5" stroke="#3a3a3a" stroke-width="0.9" />
<path d="M502.00 115.50L502.00 107.20L497.95 113.18L503.35 113.18" fill="none" stroke="#3a3a3a" stroke-width="0.85" stroke-linecap="round" stroke-linejoin="round"/>
<path d="M515.4,104.5 L515.4,58.2 C515.4,54 516,51 517.7,50 C519,47 521,45.5 523.5,46 C527,46.5 530,48 534,49.5 C538,52 541,54 544.4,54.7 C548,55.5 551,56.5 553.6,58.2 C556,60 558.5,61.5 559.4,63.9 C561,66 562,69 562.3,72 L554.8,72 C555,70 555.9,69 555.9,68.6 C555,66 554,65 552.5,63.9 C549,62 546,61.5 543.2,60.5 C540,59.5 537,58 534,56.4 C530,54 527,52 523.5,51.2 C521,52 520,55 520,58.2 L520,104.5 Z" fill="#fff" stroke="#3a3a3a" stroke-width="0.9" />
<rect x="515.2" y="79" width="5" height="26" rx="0" fill="#fff" stroke="#fff" stroke-width="0" />
<path d="M515.4,79 L515.4,104 L517.5,104.5 L517.5,79" fill="none" stroke="#3a3a3a" stroke-width="0.8" />
<path d="M518,79 L518,104.5 L520.2,105 L520.2,79" fill="none" stroke="#3a3a3a" stroke-width="0.8" />
<line x1="516.5" y1="84" x2="516.5" y2="101" stroke="#333" stroke-width="0.7" />
<line x1="519.1" y1="86" x2="519.1" y2="102" stroke="#555" stroke-width="0.6" />
<line x1="515.4" y1="79" x2="520.2" y2="79" stroke="#3a3a3a" stroke-width="0.8" />
<rect x="554.2" y="71.5" width="8.1" height="8.7" rx="1" fill="#fff" stroke="#3a3a3a" stroke-width="0.9" />
<path d="M552.5,81 L568.7,81 L568.7,85.5 L566.5,86.5 L566.5,90.5 L572.7,91 L572.7,95 L553.6,95 L551.9,91 L555,90.5 L555,86.5 L552.5,85.5 Z" fill="#fff" stroke="#3a3a3a" stroke-width="0.9" />
<ellipse cx="560.6" cy="81" rx="8.1" ry="1.4" fill="#fff" stroke="#3a3a3a" stroke-width="0.8" />
<rect x="553.6" y="95.2" width="18.5" height="8.7" rx="0" fill="#fff" stroke="#3a3a3a" stroke-width="0.9" />
<rect x="555.5" y="96" width="4" height="7.5" rx="0" fill="#555" stroke="#3a3a3a" stroke-width="0.5" />
<rect x="560.5" y="103" width="2.4" height="8.4" rx="1" fill="#fff" stroke="#3a3a3a" stroke-width="0.8" />
<rect x="565.7" y="103" width="2.4" height="7.4" rx="1" fill="#fff" stroke="#3a3a3a" stroke-width="0.8" />
<line x1="562.9" y1="80.2" x2="591.3" y2="49.4" stroke="#3a3a3a" stroke-width="0.9" />
<path d="M594.55 39.88C594.96 38.47 595.88 38.00 597.00 38.00C598.53 38.00 599.45 39.32 599.45 41.10C599.45 43.17 597.76 44.77 594.45 47.40L599.55 47.40" fill="none" stroke="#3a3a3a" stroke-width="0.85" stroke-linecap="round" stroke-linejoin="round"/>
<path d="M466,168.2 L466,134.5 Q466.5,131.5 470.4,130.5 Q503,125.5 538.1,130.5 Q542.5,131.5 543.3,134 L543.3,170 L531,170.5 L527.7,139 Q503,136.5 480.8,139 L477,169 Z" fill="#fff" stroke="#3a3a3a" stroke-width="1.0" />
<path d="M470.5,132.8 Q503,128.8 538.5,132.6" fill="none" stroke="#3a3a3a" stroke-width="0.7" />
<line x1="480.8" y1="139" x2="479.8" y2="166" stroke="#3a3a3a" stroke-width="0.7" />
<line x1="466.6" y1="136" x2="466.6" y2="167" stroke="#333" stroke-width="1.2" />
<line x1="538.3" y1="134" x2="538.3" y2="169.5" stroke="#3a3a3a" stroke-width="0.7" />
<line x1="541.3" y1="135" x2="541.3" y2="168" stroke="#333" stroke-width="1.6" />
<line x1="477" y1="130.8" x2="478" y2="139" stroke="#3a3a3a" stroke-width="0.6" />
<path d="M437.3,16.2 Q488,70 494.6,140 L497,193" fill="none" stroke="#555" stroke-width="0.9" stroke-dasharray="7 2.5 2 2.5"/>
<path d="M516.6,107 L516,135 L513.6,193" fill="none" stroke="#555" stroke-width="0.9" stroke-dasharray="7 2.5 2 2.5"/>
<line x1="535.6" y1="152.7" x2="584.3" y2="133.2" stroke="#3a3a3a" stroke-width="0.9" />
<path d="M590.54 127.30L586.46 127.30L586.11 131.48C586.87 131.02 587.63 130.83 588.40 130.83C589.93 130.83 590.95 131.95 590.95 133.72C590.95 135.48 589.93 136.60 588.40 136.60C587.38 136.60 586.46 136.23 585.85 135.67" fill="none" stroke="#3a3a3a" stroke-width="0.85" stroke-linecap="round" stroke-linejoin="round"/>
<ellipse cx="474.5" cy="177.5" rx="2.4" ry="1.3" fill="#fff" stroke="#3a3a3a" stroke-width="1.0" />
<rect x="473.3" y="178.5" width="2.4" height="7.5" rx="0" fill="#fff" stroke="#3a3a3a" stroke-width="0.7" />
<path d="M469.5,189.5 L478.5,189.5 L480.0,191.5 L468.5,191.5 Z" fill="#fff" stroke="#3a3a3a" stroke-width="0.9" />
<ellipse cx="529.5" cy="177.5" rx="2.4" ry="1.3" fill="#fff" stroke="#3a3a3a" stroke-width="1.0" />
<rect x="528.3" y="178.5" width="2.4" height="7.5" rx="0" fill="#fff" stroke="#3a3a3a" stroke-width="0.7" />
<path d="M524.5,189.5 L533.5,189.5 L535.0,191.5 L523.5,191.5 Z" fill="#fff" stroke="#3a3a3a" stroke-width="0.9" />
<line x1="531" y1="177.1" x2="585.4" y2="150.5" stroke="#3a3a3a" stroke-width="0.9" />
<path d="M591.04 146.54C590.53 145.99 589.76 145.80 589.10 145.80C587.22 145.80 586.45 148.59 586.45 151.38C586.45 153.80 587.47 155.10 589.00 155.10C590.53 155.10 591.55 153.80 591.55 152.03C591.55 150.26 590.53 149.24 589.00 149.24C587.73 149.24 586.71 150.26 586.45 151.57" fill="none" stroke="#3a3a3a" stroke-width="0.85" stroke-linecap="round" stroke-linejoin="round"/>
<line x1="532.2" y1="189.9" x2="585.4" y2="163.3" stroke="#3a3a3a" stroke-width="0.9" />
<path d="M586.45 158.50L591.55 158.50C589.61 161.79 588.59 164.33 588.29 167.90" fill="none" stroke="#3a3a3a" stroke-width="0.85" stroke-linecap="round" stroke-linejoin="round"/>
<ellipse cx="440.5" cy="199.2" rx="2.5" ry="1.5" fill="#fff" stroke="#3a3a3a" stroke-width="0.8" />
<line x1="443" y1="199.2" x2="451" y2="199.5" stroke="#3a3a3a" stroke-width="0.8" />
<line x1="451" y1="199.7" x2="459.5" y2="199.9" stroke="#333" stroke-width="2.2" />
<line x1="544" y1="199.5" x2="552" y2="199.3" stroke="#333" stroke-width="2.2" />
<line x1="552" y1="199.5" x2="560.5" y2="200" stroke="#3a3a3a" stroke-width="0.8" />
<ellipse cx="563" cy="200.2" rx="2.5" ry="1.5" fill="#fff" stroke="#3a3a3a" stroke-width="0.8" />
<line x1="550.7" y1="199.1" x2="580.8" y2="179.5" stroke="#3a3a3a" stroke-width="0.9" />
<path d="M589.00 180.23C587.57 180.23 586.76 179.31 586.76 178.12C586.76 176.74 587.73 176.00 589.00 176.00C590.27 176.00 591.24 176.74 591.24 178.12C591.24 179.31 590.43 180.23 589.00 180.23C587.47 180.23 586.45 181.34 586.45 182.81C586.45 184.28 587.47 185.20 589.00 185.20C590.53 185.20 591.55 184.28 591.55 182.81C591.55 181.34 590.53 180.23 589.00 180.23Z" fill="none" stroke="#3a3a3a" stroke-width="0.85" stroke-linecap="round" stroke-linejoin="round"/>
<line x1="563.4" y1="201.5" x2="581.9" y2="192.2" stroke="#3a3a3a" stroke-width="0.9" />
<path d="M591.55 192.23C591.29 193.81 590.27 194.65 589.00 194.65C587.47 194.65 586.45 193.35 586.45 191.68C586.45 189.82 587.47 188.70 589.00 188.70C590.53 188.70 591.55 190.09 591.55 192.42C591.55 195.58 590.53 198.00 588.90 198.00C588.08 198.00 587.27 197.72 586.71 197.26" fill="none" stroke="#3a3a3a" stroke-width="0.85" stroke-linecap="round" stroke-linejoin="round"/>
<path d="M464.8,197.8 L464.8,246 A37.1,10.4 0 0 0 539,246 L539,198 Q501.8,208 464.8,197.8 Z" fill="#fff" stroke="#2a2a2a" stroke-width="1.2" />
<line x1="466.3" y1="199" x2="466.3" y2="243" stroke="#3a3a3a" stroke-width="0.6" />
<path d="M466.5,242.5 A35.4,9.4 0 0 0 537.3,242.5" fill="none" stroke="#3a3a3a" stroke-width="1.0" />
<path d="M475.5,199.1 Q479,191 497.1,188.8 Q518,188 524,191.6 Q527.5,194 527.2,200 Q501.8,208 475.5,199.1 Z" fill="#fff" stroke="#3a3a3a" stroke-width="1.0" />
<path d="M480,197.5 Q490,190.5 497,190.3" fill="none" stroke="#3a3a3a" stroke-width="0.6" />
<path d="M520,192.5 Q526,196 525,200.5" fill="none" stroke="#3a3a3a" stroke-width="0.6" />
<ellipse cx="497" cy="192.5" rx="2.8" ry="1.0" fill="none" stroke="#333" stroke-width="1.2" />
<ellipse cx="512.2" cy="193.1" rx="2.8" ry="1.0" fill="none" stroke="#333" stroke-width="1.2" />
<ellipse cx="499.1" cy="202.6" rx="2" ry="0.8" fill="none" stroke="#3a3a3a" stroke-width="0.8" />
<rect x="468" y="196.5" width="5.2" height="27.4" rx="0" fill="#fff" stroke="#3a3a3a" stroke-width="0.9" />
<line x1="469.6" y1="199" x2="469.6" y2="222.5" stroke="#222" stroke-width="1.2" />
<line x1="472.3" y1="199" x2="472.3" y2="222.5" stroke="#3a3a3a" stroke-width="0.7" />
<rect x="526.6" y="196.5" width="6.5" height="30" rx="0" fill="#fff" stroke="#3a3a3a" stroke-width="0.9" />
<line x1="528.5" y1="199" x2="528.5" y2="226" stroke="#222" stroke-width="1.3" />
<line x1="531.5" y1="199" x2="531.5" y2="226" stroke="#3a3a3a" stroke-width="0.7" />
<path d="M537.6,198 L537.6,228" fill="none" stroke="#111" stroke-width="3.4" stroke-dasharray="1.4 0.5"/>
<path d="M475.8,245 L475.8,213.5 Q476,210.8 479,210.8 Q483,211 483,213.5 L483,245.5" fill="none" stroke="#3a3a3a" stroke-width="0.9" />
<path d="M513,247 L513,216.5 Q513.3,213.4 518,213.4 Q523.4,213.6 523.4,216 L523.4,248" fill="none" stroke="#3a3a3a" stroke-width="0.9" />
<path d="M483,238.8 Q498,240.8 513,239.8" fill="none" stroke="#3a3a3a" stroke-width="0.7" />
<ellipse cx="479.5" cy="244.2" rx="2" ry="1.2" fill="none" stroke="#3a3a3a" stroke-width="0.9" />
<ellipse cx="519.5" cy="246" rx="2" ry="1.2" fill="none" stroke="#3a3a3a" stroke-width="0.9" />
<rect x="488.6" y="213.5" width="2" height="10" rx="0" fill="#fff" stroke="#3a3a3a" stroke-width="0.7" />
<ellipse cx="489.6" cy="213.3" rx="1.5" ry="0.8" fill="#fff" stroke="#3a3a3a" stroke-width="0.8" />
<ellipse cx="489.6" cy="225.5" rx="1.6" ry="0.8" fill="none" stroke="#222" stroke-width="1.2" />
<line x1="489.6" y1="226" x2="477" y2="245" stroke="#3a3a3a" stroke-width="0.7" />
<rect x="543" y="214.2" width="2.3" height="7.5" rx="1" fill="#fff" stroke="#3a3a3a" stroke-width="0.8" />
<ellipse cx="544.6" cy="227" rx="2.4" ry="0.8" fill="#111" stroke="#111" stroke-width="1.0" />
<line x1="544.3" y1="220.5" x2="544.3" y2="226.5" stroke="#3a3a3a" stroke-width="0.6" />
<line x1="544.1" y1="228" x2="537" y2="238" stroke="#3a3a3a" stroke-width="0.7" />
<line x1="544.9" y1="216.5" x2="581.9" y2="204.9" stroke="#3a3a3a" stroke-width="0.9" />
<path d="M587.58 203.37L589.17 201.30L589.17 210.70 M593.79 201.30C592.30 201.30 592.02 204.12 592.02 206.00C592.02 207.88 592.30 210.70 593.79 210.70C595.27 210.70 595.55 207.88 595.55 206.00C595.55 204.12 595.27 201.30 593.79 201.30Z" fill="none" stroke="#3a3a3a" stroke-width="0.85" stroke-linecap="round" stroke-linejoin="round"/>
<line x1="546.5" y1="227" x2="581.9" y2="217.7" stroke="#3a3a3a" stroke-width="0.9" />
<path d="M587.58 216.07L589.17 214.00L589.17 223.40 M592.55 216.07L594.14 214.00L594.14 223.40" fill="none" stroke="#3a3a3a" stroke-width="0.85" stroke-linecap="round" stroke-linejoin="round"/>
<rect x="448" y="227.2" width="5.5" height="8.8" rx="1" fill="#fff" stroke="#3a3a3a" stroke-width="0.9" />
<ellipse cx="449.5" cy="229.3" rx="0.8" ry="0.7" fill="#111" stroke="#111" stroke-width="0.3" />
<ellipse cx="452.2" cy="229.3" rx="0.8" ry="0.7" fill="#111" stroke="#111" stroke-width="0.3" />
<ellipse cx="449.5" cy="231.8" rx="0.8" ry="0.7" fill="#111" stroke="#111" stroke-width="0.3" />
<ellipse cx="452.2" cy="231.8" rx="0.8" ry="0.7" fill="#111" stroke="#111" stroke-width="0.3" />
<ellipse cx="449.5" cy="234.3" rx="0.8" ry="0.7" fill="#111" stroke="#111" stroke-width="0.3" />
<ellipse cx="452.2" cy="234.3" rx="0.8" ry="0.7" fill="#111" stroke="#111" stroke-width="0.3" />
<line x1="450.9" y1="228.5" x2="450.9" y2="235" stroke="#999" stroke-width="0.6" />
<line x1="443.5" y1="230" x2="447.3" y2="230" stroke="#222" stroke-width="1.3" stroke-dasharray="1.3 0.8"/>
<line x1="443.5" y1="234" x2="447.3" y2="234" stroke="#222" stroke-width="1.3" stroke-dasharray="1.3 0.8"/>
<rect x="555.5" y="227.2" width="5.5" height="8.8" rx="1" fill="#fff" stroke="#3a3a3a" stroke-width="0.9" />
<ellipse cx="557.0" cy="229.3" rx="0.8" ry="0.7" fill="#111" stroke="#111" stroke-width="0.3" />
<ellipse cx="559.7" cy="229.3" rx="0.8" ry="0.7" fill="#111" stroke="#111" stroke-width="0.3" />
<ellipse cx="557.0" cy="231.8" rx="0.8" ry="0.7" fill="#111" stroke="#111" stroke-width="0.3" />
<ellipse cx="559.7" cy="231.8" rx="0.8" ry="0.7" fill="#111" stroke="#111" stroke-width="0.3" />
<ellipse cx="557.0" cy="234.3" rx="0.8" ry="0.7" fill="#111" stroke="#111" stroke-width="0.3" />
<ellipse cx="559.7" cy="234.3" rx="0.8" ry="0.7" fill="#111" stroke="#111" stroke-width="0.3" />
<line x1="558.4" y1="228.5" x2="558.4" y2="235" stroke="#999" stroke-width="0.6" />
<line x1="561.5" y1="230" x2="565.3" y2="230" stroke="#222" stroke-width="1.3" stroke-dasharray="1.3 0.8"/>
<line x1="561.5" y1="234" x2="565.3" y2="234" stroke="#222" stroke-width="1.3" stroke-dasharray="1.3 0.8"/>
<line x1="561.1" y1="230.4" x2="585.4" y2="232.7" stroke="#3a3a3a" stroke-width="0.9" />
<path d="M587.58 228.87L589.17 226.80L589.17 236.20 M592.09 228.68C592.37 227.27 593.01 226.80 593.79 226.80C594.84 226.80 595.48 228.12 595.48 229.90C595.48 231.97 594.31 233.57 592.02 236.20L595.55 236.20" fill="none" stroke="#3a3a3a" stroke-width="0.85" stroke-linecap="round" stroke-linejoin="round"/>
<line x1="561.1" y1="235" x2="585.4" y2="244.3" stroke="#3a3a3a" stroke-width="0.9" />
<path d="M587.58 240.47L589.17 238.40L589.17 247.80 M592.09 239.34C592.73 238.59 593.19 238.40 593.79 238.40C594.84 238.40 595.37 239.53 595.37 240.84C595.37 242.16 594.67 242.82 593.50 242.82C594.84 242.82 595.55 243.85 595.55 245.36C595.55 246.86 594.84 247.80 593.79 247.80C593.08 247.80 592.44 247.42 592.02 246.86" fill="none" stroke="#3a3a3a" stroke-width="0.85" stroke-linecap="round" stroke-linejoin="round"/>
<line x1="502.2" y1="229.8" x2="585.4" y2="261.7" stroke="#3a3a3a" stroke-width="0.9" />
<path d="M587.77 256.47L589.34 254.40L589.34 263.80 M594.78 263.80L594.78 254.40L592.16 261.17L595.65 261.17" fill="none" stroke="#3a3a3a" stroke-width="0.85" stroke-linecap="round" stroke-linejoin="round"/>
<line x1="494.1" y1="267.6" x2="494.1" y2="283" stroke="#3a3a3a" stroke-width="0.8" />
<rect x="491.1" y="283" width="6" height="23.69999999999999" rx="0" fill="#fff" stroke="#3a3a3a" stroke-width="0.9" />
<ellipse cx="494.1" cy="283" rx="3" ry="0.9" fill="#fff" stroke="#222" stroke-width="1.2" />
<rect x="488.8" y="306.7" width="10.6" height="6.6" rx="1.2" fill="#fff" stroke="#3a3a3a" stroke-width="0.9" />
<line x1="494.1" y1="313.3" x2="494.1" y2="329.6" stroke="#3a3a3a" stroke-width="0.8" />
<path d="M491.8,331.1 L496.40000000000003,331.1 L496.1,335.8 L494.90000000000003,337.3 L493.3,337.3 L492.1,335.8 Z" fill="#fff" stroke="#3a3a3a" stroke-width="0.8" />
<line x1="494.1" y1="331.6" x2="494.1" y2="336.8" stroke="#3a3a3a" stroke-width="0.5" />
<ellipse cx="494.1" cy="330.5" rx="4.5" ry="1.3" fill="#333" stroke="#1a1a1a" stroke-width="1.2" />
<line x1="507.2" y1="267.6" x2="507.2" y2="284" stroke="#3a3a3a" stroke-width="0.8" />
<rect x="504.2" y="284" width="6" height="23.80000000000001" rx="0" fill="#fff" stroke="#3a3a3a" stroke-width="0.9" />
<ellipse cx="507.2" cy="284" rx="3" ry="0.9" fill="#fff" stroke="#222" stroke-width="1.2" />
<rect x="501.9" y="307.8" width="10.6" height="6.6" rx="1.2" fill="#fff" stroke="#3a3a3a" stroke-width="0.9" />
<line x1="507.2" y1="314.40000000000003" x2="507.2" y2="330.7" stroke="#3a3a3a" stroke-width="0.8" />
<path d="M504.9,332.2 L509.5,332.2 L509.2,336.8 L508.0,338.3 L506.4,338.3 L505.2,336.8 Z" fill="#fff" stroke="#3a3a3a" stroke-width="0.8" />
<line x1="507.2" y1="332.7" x2="507.2" y2="337.8" stroke="#3a3a3a" stroke-width="0.5" />
<ellipse cx="507.2" cy="331.59999999999997" rx="4.5" ry="1.3" fill="#333" stroke="#1a1a1a" stroke-width="1.2" />
<line x1="491.6" y1="299.6" x2="582.2" y2="275.5" stroke="#3a3a3a" stroke-width="0.9" />
<path d="M587.77 272.95L589.34 270.60L589.34 281.30 M595.37 270.60L592.58 270.60L592.34 275.42C592.86 274.88 593.38 274.67 593.91 274.67C594.95 274.67 595.65 275.95 595.65 277.98C595.65 280.02 594.95 281.30 593.91 281.30C593.21 281.30 592.58 280.87 592.16 280.23" fill="none" stroke="#3a3a3a" stroke-width="0.85" stroke-linecap="round" stroke-linejoin="round"/>
<line x1="507" y1="307" x2="582.2" y2="288.2" stroke="#3a3a3a" stroke-width="0.9" />
<path d="M587.77 285.73L589.34 283.40L589.34 294.00 M595.30 284.25C594.95 283.61 594.43 283.40 593.98 283.40C592.69 283.40 592.16 286.58 592.16 289.76C592.16 292.52 592.86 294.00 593.91 294.00C594.95 294.00 595.65 292.52 595.65 290.50C595.65 288.49 594.95 287.32 593.91 287.32C593.03 287.32 592.34 288.49 592.16 289.97" fill="none" stroke="#3a3a3a" stroke-width="0.85" stroke-linecap="round" stroke-linejoin="round"/>
<line x1="496" y1="331" x2="582.2" y2="302.1" stroke="#3a3a3a" stroke-width="0.9" />
<path d="M587.77 298.43L589.34 296.10L589.34 306.70 M592.16 296.10L595.65 296.10C594.32 299.81 593.63 302.67 593.42 306.70" fill="none" stroke="#3a3a3a" stroke-width="0.85" stroke-linecap="round" stroke-linejoin="round"/>
<line x1="510.4" y1="334.5" x2="582.2" y2="316" stroke="#3a3a3a" stroke-width="0.9" />
<path d="M587.77 313.27L589.34 311.20L589.34 320.60 M593.91 315.52C592.93 315.52 592.37 314.58 592.37 313.36C592.37 311.95 593.03 311.20 593.91 311.20C594.78 311.20 595.44 311.95 595.44 313.36C595.44 314.58 594.88 315.52 593.91 315.52C592.86 315.52 592.16 316.65 592.16 318.16C592.16 319.66 592.86 320.60 593.91 320.60C594.95 320.60 595.65 319.66 595.65 318.16C595.65 316.65 594.95 315.52 593.91 315.52Z" fill="none" stroke="#3a3a3a" stroke-width="0.85" stroke-linecap="round" stroke-linejoin="round"/>
<path d="M492,347 L519,348.5 L520.2,360.5 L492,361.1 Q489.8,360 489.8,354 Q489.8,347.5 492,347 Z" fill="#fff" stroke="#3a3a3a" stroke-width="0.9" />
<path d="M519,348.5 Q521.5,349 521.5,354.5 Q521.5,360 520.2,360.5" fill="none" stroke="#333" stroke-width="1.6" />
<path d="M521.5,354 L547,357" fill="none" stroke="#3a3a3a" stroke-width="0.9" />
<path d="M521.5,355.5 L545,357.5" fill="none" stroke="#3a3a3a" stroke-width="0.6" />
<path d="M530,355.3 L546,357.2" fill="none" stroke="#333" stroke-width="1.5" stroke-dasharray="1 0.8"/>
<line x1="507" y1="351.9" x2="581" y2="338" stroke="#3a3a3a" stroke-width="0.9" />
<path d="M587.77 333.15L589.34 330.80L589.34 341.50 M595.65 334.87C595.48 336.69 594.78 337.65 593.91 337.65C592.86 337.65 592.16 336.15 592.16 334.22C592.16 332.08 592.86 330.80 593.91 330.80C594.95 330.80 595.65 332.41 595.65 335.08C595.65 338.72 594.95 341.50 593.84 341.50C593.28 341.50 592.72 341.18 592.34 340.64" fill="none" stroke="#3a3a3a" stroke-width="0.85" stroke-linecap="round" stroke-linejoin="round"/>
<rect x="486" y="372.4" width="30.4" height="9.1" rx="1.8" fill="#fff" stroke="#3a3a3a" stroke-width="0.9" />
<path d="M486.3,375.5 Q500,376.5 516,375.2" fill="none" stroke="#3a3a3a" stroke-width="0.7" />
<line x1="497" y1="381.8" x2="510" y2="381.8" stroke="#777" stroke-width="1.0" />
<path d="M488.6,372 L488.6,373.6 A5.05,1.9 0 0 0 498.7,373.6 L498.7,372" fill="#fff" stroke="#3a3a3a" stroke-width="0.8" />
<ellipse cx="493.65" cy="372" rx="5.05" ry="1.9" fill="#fff" stroke="#3a3a3a" stroke-width="0.9" />
<path d="M502.3,371 L502.3,374 A4.55,1.6 0 0 0 511.4,374 L511.4,371" fill="#fff" stroke="#3a3a3a" stroke-width="1.0" />
<ellipse cx="506.85" cy="371" rx="4.55" ry="1.6" fill="#fff" stroke="#222" stroke-width="1.2" />
<ellipse cx="506.85" cy="371" rx="2.8" ry="0.9" fill="none" stroke="#3a3a3a" stroke-width="0.6" />
<line x1="516.2" y1="377.3" x2="581" y2="363.5" stroke="#3a3a3a" stroke-width="0.9" />
<path d="M587.32 359.62C587.60 358.03 588.23 357.50 588.99 357.50C590.04 357.50 590.67 358.98 590.67 361.00C590.67 363.33 589.52 365.13 587.25 368.10L590.74 368.10 M593.91 357.50C592.44 357.50 592.16 360.68 592.16 362.80C592.16 364.92 592.44 368.10 593.91 368.10C595.37 368.10 595.65 364.92 595.65 362.80C595.65 360.68 595.37 357.50 593.91 357.50Z" fill="none" stroke="#3a3a3a" stroke-width="0.85" stroke-linecap="round" stroke-linejoin="round"/>
<line x1="488.3" y1="382.5" x2="488.3" y2="390" stroke="#3a3a3a" stroke-width="0.7" />
<path d="M488.3,389.5 L489.40000000000003,392.0 L489.40000000000003,399.5 L487.2,399.5 L487.2,392.0 Z" fill="#fff" stroke="#3a3a3a" stroke-width="0.7" />
<line x1="486.2" y1="400.5" x2="490.40000000000003" y2="400.5" stroke="#222" stroke-width="1.6" />
<path d="M499.6,390.5 L500.70000000000005,393.0 L500.70000000000005,400.5 L498.5,400.5 L498.5,393.0 Z" fill="#fff" stroke="#3a3a3a" stroke-width="0.7" />
<line x1="497.5" y1="401.5" x2="501.70000000000005" y2="401.5" stroke="#222" stroke-width="1.6" />
<rect x="512.6" y="389.5" width="2.3" height="11" rx="1" fill="#fff" stroke="#3a3a3a" stroke-width="0.8" />
<line x1="511.5" y1="401" x2="516" y2="401" stroke="#222" stroke-width="1.5" />
<line x1="515" y1="397" x2="581" y2="383.1" stroke="#3a3a3a" stroke-width="0.9" />
<path d="M587.32 381.70C587.60 380.12 588.23 379.60 588.99 379.60C590.04 379.60 590.67 381.07 590.67 383.06C590.67 385.38 589.52 387.16 587.25 390.10L590.74 390.10 M592.69 381.91L594.25 379.60L594.25 390.10" fill="none" stroke="#3a3a3a" stroke-width="0.85" stroke-linecap="round" stroke-linejoin="round"/>
<path d="M475.8,255 L475.8,270.6 L457.2,278.9" fill="none" stroke="#3a3a3a" stroke-width="0.9" />
<path d="M409.1,266.2 L422.9,266.2 L426.5,266.5" fill="none" stroke="#3a3a3a" stroke-width="0.9" />
<path d="M427,264.5 Q428.5,268 428.7,270.6 Q430,273.5 433,275.8 Q438,278.5 446.9,281.9" fill="none" stroke="#3a3a3a" stroke-width="1.0" />
<path d="M426.8,263.8 L428.2,268.2" fill="none" stroke="#1a1a1a" stroke-width="2.0" />
<path d="M449.8,281 L446,289.8 Q446,292.8 448.6,293.6 L460.8,286.9 L460.2,284.3 L457.5,283.2 L454.3,283.2 Z" fill="#fff" stroke="#3a3a3a" stroke-width="0.9" />
<path d="M449.8,281 L452.1,275.4 L456.8,277.6 L454.3,283.2 Z" fill="#fff" stroke="#3a3a3a" stroke-width="1.0" />
<path d="M449,288.5 L458.5,283.5 M449.5,291.5 L460,285.8" fill="none" stroke="#3a3a3a" stroke-width="0.6" />
<line x1="446.3" y1="289.5" x2="448.8" y2="293.3" stroke="#3a3a3a" stroke-width="0.6" />
<line x1="452.4" y1="294" x2="452.4" y2="302.5" stroke="#3a3a3a" stroke-width="0.8" />
<path d="M414.19 263.80L414.19 256.10L410.95 261.64L415.27 261.64 M420.92 256.72C420.49 256.25 419.84 256.10 419.28 256.10C417.68 256.10 417.03 258.41 417.03 260.72C417.03 262.72 417.90 263.80 419.19 263.80C420.49 263.80 421.35 262.72 421.35 261.26C421.35 259.80 420.49 258.95 419.19 258.95C418.11 258.95 417.25 259.80 417.03 260.87" fill="none" stroke="#3a3a3a" stroke-width="0.85" stroke-linecap="round" stroke-linejoin="round"/>
<path d="M409.1,294 L420.1,294 L445.5,305.7" fill="none" stroke="#3a3a3a" stroke-width="0.9" />
<path d="M414.19 291.20L414.19 283.60L410.95 289.07L415.27 289.07 M417.03 283.60L421.35 283.60C419.71 286.26 418.85 288.31 418.59 291.20" fill="none" stroke="#3a3a3a" stroke-width="0.85" stroke-linecap="round" stroke-linejoin="round"/>
<path d="M444.5,304.2 L444.7,307.8 Q446.3,309 447.90000000000003,307.8 L448.1,304.2 Z" fill="#fff" stroke="#3a3a3a" stroke-width="0.9" />
<ellipse cx="446.3" cy="304.2" rx="1.8" ry="0.9" fill="#fff" stroke="#222" stroke-width="1.1" />
<path d="M449.3,306.4 L449.5,310.0 Q451.1,311.2 452.70000000000005,310.0 L452.90000000000003,306.4 Z" fill="#fff" stroke="#3a3a3a" stroke-width="0.9" />
<ellipse cx="451.1" cy="306.4" rx="1.8" ry="0.9" fill="#fff" stroke="#222" stroke-width="1.1" />
<path d="M453.09999999999997,308.3 L453.29999999999995,311.90000000000003 Q454.9,313.1 456.5,311.90000000000003 L456.7,308.3 Z" fill="#fff" stroke="#3a3a3a" stroke-width="0.9" />
<ellipse cx="454.9" cy="308.3" rx="1.8" ry="0.9" fill="#fff" stroke="#222" stroke-width="1.1" />
<path d="M456.9,309.9 L457.09999999999997,313.5 Q458.7,314.7 460.3,313.5 L460.5,309.9 Z" fill="#fff" stroke="#3a3a3a" stroke-width="0.9" />
<ellipse cx="458.7" cy="309.9" rx="1.8" ry="0.9" fill="#fff" stroke="#222" stroke-width="1.1" />
<path d="M409.1,310.1 L420.1,310.1 L442.8,320.5" fill="none" stroke="#3a3a3a" stroke-width="0.9" />
<path d="M414.19 307.80L414.19 300.80L410.95 305.84L415.27 305.84 M419.19 304.02C417.98 304.02 417.29 303.32 417.29 302.41C417.29 301.36 418.11 300.80 419.19 300.80C420.27 300.80 421.09 301.36 421.09 302.41C421.09 303.32 420.40 304.02 419.19 304.02C417.90 304.02 417.03 304.86 417.03 305.98C417.03 307.10 417.90 307.80 419.19 307.80C420.49 307.80 421.35 307.10 421.35 305.98C421.35 304.86 420.49 304.02 419.19 304.02Z" fill="none" stroke="#3a3a3a" stroke-width="0.85" stroke-linecap="round" stroke-linejoin="round"/>
<path d="M442.8,317.5 L445.5,314.8 L460,321.5 L461.6,324.5 L459,327.3 L444,321.5 Z" fill="#fff" stroke="#3a3a3a" stroke-width="1.0" />
<path d="M442.8,317.5 L445.5,314.8 L460,321.5 L458,323.5 Z" fill="#2a2a2a" stroke="#3a3a3a" stroke-width="0.9" />
<line x1="447" y1="319.3" x2="447" y2="322.8" stroke="#222" stroke-width="1.2" />
<line x1="451" y1="321" x2="451" y2="324.5" stroke="#222" stroke-width="1.2" />
<line x1="455" y1="322.6" x2="455" y2="326" stroke="#222" stroke-width="1.2" />
<ellipse cx="448.5" cy="317.5" rx="1.3" ry="0.9" fill="#000" stroke="#000" stroke-width="0.6" />
<ellipse cx="452.5" cy="319.3" rx="1.3" ry="0.9" fill="#000" stroke="#000" stroke-width="0.6" />
<ellipse cx="456.5" cy="321" rx="1.3" ry="0.9" fill="#000" stroke="#000" stroke-width="0.6" />
<path d="M409.1,324.2 L420.1,324.2 L436.6,332.5" fill="none" stroke="#3a3a3a" stroke-width="0.9" />
<path d="M414.19 322.30L414.19 314.50L410.95 320.12L415.27 320.12 M421.35 317.46C421.13 318.79 420.27 319.49 419.19 319.49C417.90 319.49 417.03 318.40 417.03 317.00C417.03 315.44 417.90 314.50 419.19 314.50C420.49 314.50 421.35 315.67 421.35 317.62C421.35 320.27 420.49 322.30 419.10 322.30C418.41 322.30 417.72 322.07 417.25 321.68" fill="none" stroke="#3a3a3a" stroke-width="0.85" stroke-linecap="round" stroke-linejoin="round"/>
<path d="M436.6,332.5 Q440,331 445,331" fill="none" stroke="#3a3a3a" stroke-width="0.9" />
<path d="M445,331 Q441,336 448,339 Q456,341.5 460,339 Q461,335 455,332 Q449,330 445,331 Z" fill="none" stroke="#3a3a3a" stroke-width="0.9" />
<path d="M477,461.5 L477,465 Q501.3,470 525.5,465 L525.5,461.5 Z" fill="#fff" stroke="#3a3a3a" stroke-width="1.0" />
<path d="M477.3,464.5 Q501.3,469.8 525.2,464.5" fill="none" stroke="#333" stroke-width="1.6" />
<path d="M478.5,448.2 L478.5,462 Q501.3,467 524.1,462 L524.1,448.2" fill="#fff" stroke="#3a3a3a" stroke-width="0.9" />
<ellipse cx="501.3" cy="448.2" rx="22.8" ry="5.4" fill="#fff" stroke="#3a3a3a" stroke-width="0.9" />
<ellipse cx="501.3" cy="448.4" rx="7.3" ry="1.6" fill="none" stroke="#3a3a3a" stroke-width="0.8" />
<rect x="484.1" y="445" width="5.7" height="3.9" rx="1" fill="#fff" stroke="#3a3a3a" stroke-width="0.8" />
<ellipse cx="486.9" cy="445" rx="2.6" ry="0.9" fill="none" stroke="#222" stroke-width="1.3" />
<line x1="502.9" y1="437.6" x2="502.9" y2="445" stroke="#3a3a3a" stroke-width="0.8" />
<ellipse cx="502.9" cy="445.2" rx="1.6" ry="0.6" fill="none" stroke="#222" stroke-width="1.0" />
<rect x="500.1" y="433.8" width="5.6" height="3.8" rx="0" fill="#fff" stroke="#3a3a3a" stroke-width="1.1" />
<line x1="500.1" y1="434.2" x2="505.7" y2="434.2" stroke="#222" stroke-width="1.5" />
<path d="M505.7,434.3 L524.6,422 L549,422" fill="none" stroke="#3a3a3a" stroke-width="0.9" />
<path d="M527.53 414.44C527.83 412.91 528.51 412.40 529.35 412.40C530.49 412.40 531.18 413.83 531.18 415.77C531.18 418.01 529.92 419.74 527.45 422.60L531.25 422.60 M532.88 414.44C533.19 412.91 533.87 412.40 534.71 412.40C535.85 412.40 536.53 413.83 536.53 415.77C536.53 418.01 535.28 419.74 532.81 422.60L536.61 422.60 M538.59 418.32L541.27 418.32 M543.02 414.64L544.73 412.40L544.73 422.60" fill="none" stroke="#3a3a3a" stroke-width="0.85" stroke-linecap="round" stroke-linejoin="round"/>
<path d="M485.2,422 L488.6,422 L487.4,424.6 L487.4,431 L486.4,431 L486.4,424.6 Z" fill="#333" stroke="#3a3a3a" stroke-width="0.9" />
<ellipse cx="486.9" cy="432.4" rx="2.3" ry="0.9" fill="none" stroke="#222" stroke-width="1.3" />
<ellipse cx="486.9" cy="437.1" rx="3.2" ry="1.0" fill="none" stroke="#222" stroke-width="1.4" />
<path d="M485,441.5 L486.9,439.8 L488.8,441.5 Z" fill="#222" stroke="#222" stroke-width="1.0" />
<line x1="455.2" y1="429.9" x2="483" y2="435.4" stroke="#666" stroke-width="2.2" />
<line x1="455.6" y1="429.9" x2="482.6" y2="435.3" stroke="#ddd" stroke-width="0.6" />
<path d="M455.2,415.8 L473.7,415.8 L486.5,423.9" fill="none" stroke="#3a3a3a" stroke-width="0.9" />
<path d="M454.53 407.18C454.83 405.77 455.51 405.30 456.35 405.30C457.49 405.30 458.18 406.62 458.18 408.40C458.18 410.47 456.92 412.07 454.45 414.70L458.25 414.70 M459.88 407.18C460.19 405.77 460.87 405.30 461.71 405.30C462.85 405.30 463.53 406.62 463.53 408.40C463.53 410.47 462.28 412.07 459.81 414.70L463.61 414.70 M465.59 410.75L468.27 410.75 M469.45 405.30L473.25 405.30C471.80 408.59 471.04 411.13 470.82 414.70" fill="none" stroke="#3a3a3a" stroke-width="0.85" stroke-linecap="round" stroke-linejoin="round"/>
<path d="M421.6,420.9 L443.6,420.9 L485.3,432.2" fill="none" stroke="#3a3a3a" stroke-width="0.9" />
<path d="M422.13 412.98C422.45 411.57 423.18 411.10 424.07 411.10C425.29 411.10 426.01 412.42 426.01 414.20C426.01 416.27 424.68 417.87 422.05 420.50L426.10 420.50 M427.83 412.98C428.15 411.57 428.88 411.10 429.77 411.10C430.98 411.10 431.71 412.42 431.71 414.20C431.71 416.27 430.38 417.87 427.75 420.50L431.79 420.50 M433.90 416.55L436.75 416.55 M438.09 412.98C438.41 411.57 439.14 411.10 440.03 411.10C441.24 411.10 441.97 412.42 441.97 414.20C441.97 416.27 440.63 417.87 438.00 420.50L442.05 420.50" fill="none" stroke="#3a3a3a" stroke-width="0.85" stroke-linecap="round" stroke-linejoin="round"/>
<path d="M402,447.1 L464.5,447.1 L480.7,435.5" fill="none" stroke="#3a3a3a" stroke-width="0.9" />
<path d="M401.33 437.50C401.65 435.92 402.38 435.40 403.26 435.40C404.46 435.40 405.19 436.87 405.19 438.86C405.19 441.17 403.86 442.96 401.25 445.90L405.27 445.90 M406.99 437.50C407.31 435.92 408.03 435.40 408.92 435.40C410.12 435.40 410.85 436.87 410.85 438.86C410.85 441.17 409.52 442.96 406.91 445.90L410.93 445.90 M413.02 441.49L415.85 441.49 M417.18 436.45C417.90 435.61 418.42 435.40 419.10 435.40C420.31 435.40 420.91 436.66 420.91 438.13C420.91 439.60 420.11 440.33 418.78 440.33C420.31 440.33 421.11 441.49 421.11 443.17C421.11 444.85 420.31 445.90 419.10 445.90C418.30 445.90 417.58 445.48 417.10 444.85 M423.43 444.64L423.09 447.47 M425.10 437.50C425.42 435.92 426.14 435.40 427.03 435.40C428.23 435.40 428.96 436.87 428.96 438.86C428.96 441.17 427.63 442.96 425.02 445.90L429.04 445.90 M430.76 437.50C431.08 435.92 431.80 435.40 432.69 435.40C433.89 435.40 434.61 436.87 434.61 438.86C434.61 441.17 433.29 442.96 430.68 445.90L434.70 445.90 M436.79 441.49L439.62 441.49 M443.88 445.90L443.88 435.40L440.86 442.96L444.88 442.96 M447.20 444.64L446.86 447.47 M448.87 437.50C449.19 435.92 449.91 435.40 450.80 435.40C452.00 435.40 452.72 436.87 452.72 438.86C452.72 441.17 451.40 442.96 448.79 445.90L452.80 445.90 M454.53 437.50C454.85 435.92 455.57 435.40 456.45 435.40C457.66 435.40 458.38 436.87 458.38 438.86C458.38 441.17 457.06 442.96 454.45 445.90L458.46 445.90 M460.56 441.49L463.39 441.49 M468.33 435.40L465.11 435.40L464.83 440.12C465.44 439.60 466.04 439.39 466.64 439.39C467.85 439.39 468.65 440.65 468.65 442.64C468.65 444.64 467.85 445.90 466.64 445.90C465.84 445.90 465.11 445.48 464.63 444.85" fill="none" stroke="#3a3a3a" stroke-width="0.85" stroke-linecap="round" stroke-linejoin="round"/>
<path d="M425.1,469.6 L449.4,469.6 L484.1,441.3" fill="none" stroke="#3a3a3a" stroke-width="0.9" />
<path d="M426.84 460.70C427.18 459.12 427.95 458.60 428.88 458.60C430.16 458.60 430.93 460.07 430.93 462.06C430.93 464.38 429.52 466.16 426.75 469.10L431.02 469.10 M432.85 460.70C433.19 459.12 433.96 458.60 434.90 458.60C436.18 458.60 436.94 460.07 436.94 462.06C436.94 464.38 435.54 466.16 432.76 469.10L437.03 469.10 M439.25 464.69L442.26 464.69 M447.42 459.44C447.00 458.81 446.36 458.60 445.80 458.60C444.22 458.60 443.58 461.75 443.58 464.90C443.58 467.63 444.44 469.10 445.72 469.10C447.00 469.10 447.85 467.63 447.85 465.64C447.85 463.64 447.00 462.49 445.72 462.49C444.65 462.49 443.80 463.64 443.58 465.11" fill="none" stroke="#3a3a3a" stroke-width="0.85" stroke-linecap="round" stroke-linejoin="round"/>
<line x1="515.2" y1="455.9" x2="578.9" y2="437.4" stroke="#3a3a3a" stroke-width="0.9" />
<path d="M579.43 431.30C579.74 429.72 580.45 429.20 581.32 429.20C582.51 429.20 583.22 430.67 583.22 432.66C583.22 434.97 581.91 436.76 579.35 439.70L583.29 439.70 M584.98 431.30C585.30 429.72 586.01 429.20 586.88 429.20C588.06 429.20 588.77 430.67 588.77 432.66C588.77 434.97 587.47 436.76 584.91 439.70L588.85 439.70" fill="none" stroke="#3a3a3a" stroke-width="0.85" stroke-linecap="round" stroke-linejoin="round"/>
<ellipse cx="501.2" cy="486" rx="7.6" ry="1.9" fill="#fff" stroke="#333" stroke-width="1.5" />
<ellipse cx="501.2" cy="486" rx="5" ry="1.1" fill="none" stroke="#3a3a3a" stroke-width="0.6" />
<line x1="507.1" y1="486" x2="578.9" y2="466.3" stroke="#3a3a3a" stroke-width="0.9" />
<path d="M579.43 461.40C579.74 459.82 580.45 459.30 581.32 459.30C582.51 459.30 583.22 460.77 583.22 462.76C583.22 465.07 581.91 466.86 579.35 469.80L583.29 469.80 M584.98 460.35C585.69 459.51 586.21 459.30 586.88 459.30C588.06 459.30 588.65 460.56 588.65 462.03C588.65 463.50 587.86 464.24 586.56 464.24C588.06 464.24 588.85 465.39 588.85 467.07C588.85 468.75 588.06 469.80 586.88 469.80C586.09 469.80 585.38 469.38 584.91 468.75" fill="none" stroke="#3a3a3a" stroke-width="0.85" stroke-linecap="round" stroke-linejoin="round"/>
<path d="M493.2,514.5 L493.2,519.8 Q501.5,522.5 510,519.8 L510,514.5 Z" fill="#fff" stroke="#3a3a3a" stroke-width="0.9" />
<ellipse cx="501.5" cy="514.5" rx="8.3" ry="2.3" fill="#fff" stroke="#3a3a3a" stroke-width="1.0" />
<ellipse cx="501.5" cy="514.4" rx="5.4" ry="1.5" fill="none" stroke="#1a1a1a" stroke-width="1.6" />
<line x1="508.3" y1="514.9" x2="577.8" y2="502.2" stroke="#3a3a3a" stroke-width="0.9" />
<path d="M578.33 499.36C578.63 497.96 579.31 497.50 580.14 497.50C581.27 497.50 581.95 498.80 581.95 500.57C581.95 502.62 580.71 504.20 578.25 506.80L582.03 506.80 M586.41 506.80L586.41 497.50L583.57 504.20L587.35 504.20" fill="none" stroke="#3a3a3a" stroke-width="0.85" stroke-linecap="round" stroke-linejoin="round"/>
<path d="M498.6,538.8 L498.6,531 Q501.6,528.5 504.6,531 L504.6,538.8 Z" fill="#fff" stroke="#3a3a3a" stroke-width="0.9" />
<line x1="498.6" y1="533" x2="504.6" y2="533" stroke="#3a3a3a" stroke-width="0.6" />
<path d="M498.6,553 L498.6,572.3 L500,578 L503.5,578 L505.4,572.3 L505.4,553 Z" fill="#fff" stroke="#3a3a3a" stroke-width="0.9" />
<line x1="498.6" y1="572.3" x2="505.4" y2="572.3" stroke="#3a3a3a" stroke-width="0.6" />
<path d="M489.4,540 L489.4,551 Q501.2,556 513,551 L513,540 Z" fill="#fff" stroke="#3a3a3a" stroke-width="0.9" />
<ellipse cx="501.2" cy="539.5" rx="11.8" ry="3" fill="#fff" stroke="#3a3a3a" stroke-width="0.9" />
<line x1="504.8" y1="548.5" x2="577.8" y2="538.1" stroke="#3a3a3a" stroke-width="0.9" />
<path d="M578.33 534.30C578.63 532.73 579.31 532.20 580.14 532.20C581.27 532.20 581.95 533.67 581.95 535.67C581.95 537.98 580.71 539.76 578.25 542.70L582.03 542.70 M587.05 532.20L584.03 532.20L583.76 536.93C584.33 536.40 584.89 536.19 585.46 536.19C586.59 536.19 587.35 537.45 587.35 539.45C587.35 541.44 586.59 542.70 585.46 542.70C584.71 542.70 584.03 542.28 583.57 541.65" fill="none" stroke="#3a3a3a" stroke-width="0.85" stroke-linecap="round" stroke-linejoin="round"/>
<path d="M493.2,584.2 L493.2,589.5 Q501.5,592.2 510,589.5 L510,584.2 Z" fill="#fff" stroke="#3a3a3a" stroke-width="0.9" />
<ellipse cx="501.5" cy="584.2" rx="8.3" ry="2.3" fill="#fff" stroke="#3a3a3a" stroke-width="1.0" />
<ellipse cx="501.5" cy="584.1" rx="5.4" ry="1.5" fill="none" stroke="#1a1a1a" stroke-width="1.6" />
<line x1="508.6" y1="585.9" x2="578.2" y2="574.6" stroke="#3a3a3a" stroke-width="0.9" />
<path d="M578.33 571.50C578.63 570.00 579.31 569.50 580.14 569.50C581.27 569.50 581.95 570.90 581.95 572.80C581.95 575.00 580.71 576.70 578.25 579.50L582.03 579.50 M586.41 579.50L586.41 569.50L583.57 576.70L587.35 576.70" fill="none" stroke="#3a3a3a" stroke-width="0.85" stroke-linecap="round" stroke-linejoin="round"/>
<path d="M480.6,624 L480.6,630 Q501.5,638 522.6,630 L522.6,624 Z" fill="#fff" stroke="#3a3a3a" stroke-width="0.9" />
<path d="M479.1,611 L479.1,623.5 Q501.5,629 523.7,623.5 L523.7,611 Q501.5,618 479.1,611 Z" fill="#fff" stroke="#3a3a3a" stroke-width="0.9" />
<path d="M480.1,611 L480.1,604 Q480.5,598.9 501.6,598.9 Q522.7,598.9 523.2,604 L523.2,611 Q501.5,617 480.1,611 Z" fill="#fff" stroke="#3a3a3a" stroke-width="0.9" />
<path d="M487.5,603.9 Q501.6,607.5 515.8,603.9" fill="none" stroke="#3a3a3a" stroke-width="0.7" />
<line x1="514.5" y1="614.5" x2="514.5" y2="624" stroke="#111" stroke-width="2.0" />
<line x1="482.7" y1="612.5" x2="482.7" y2="623" stroke="#888" stroke-width="1.3" />
<path d="M479.1,611.5 Q501.5,618.5 523.7,611.5" fill="none" stroke="#333" stroke-width="1.3" />
<line x1="514.3" y1="619" x2="578.2" y2="605.8" stroke="#3a3a3a" stroke-width="0.9" />
<path d="M578.33 602.46C578.63 600.77 579.31 600.20 580.14 600.20C581.27 600.20 581.95 601.78 581.95 603.93C581.95 606.42 580.71 608.34 578.25 611.50L582.03 611.50 M586.97 601.10C586.59 600.43 586.03 600.20 585.54 600.20C584.14 600.20 583.57 603.59 583.57 606.98C583.57 609.92 584.33 611.50 585.46 611.50C586.59 611.50 587.35 609.92 587.35 607.77C587.35 605.62 586.59 604.38 585.46 604.38C584.52 604.38 583.76 605.62 583.57 607.21" fill="none" stroke="#3a3a3a" stroke-width="0.85" stroke-linecap="round" stroke-linejoin="round"/>
<polyline points="190.5,108.5 190.5,544" fill="none" stroke="#555" stroke-width="0.8" stroke-dasharray="9 2.5 2.5 2.5"/>
<polyline points="190.5,576 190.5,685" fill="none" stroke="#555" stroke-width="0.8" stroke-dasharray="9 2.5 2.5 2.5"/>
<line x1="190.8" y1="0" x2="190.8" y2="1.5" stroke="#555" stroke-width="1.4" />
<line x1="190.5" y1="108.5" x2="190.5" y2="125" stroke="#555" stroke-width="0.9" /></svg></body></html>
